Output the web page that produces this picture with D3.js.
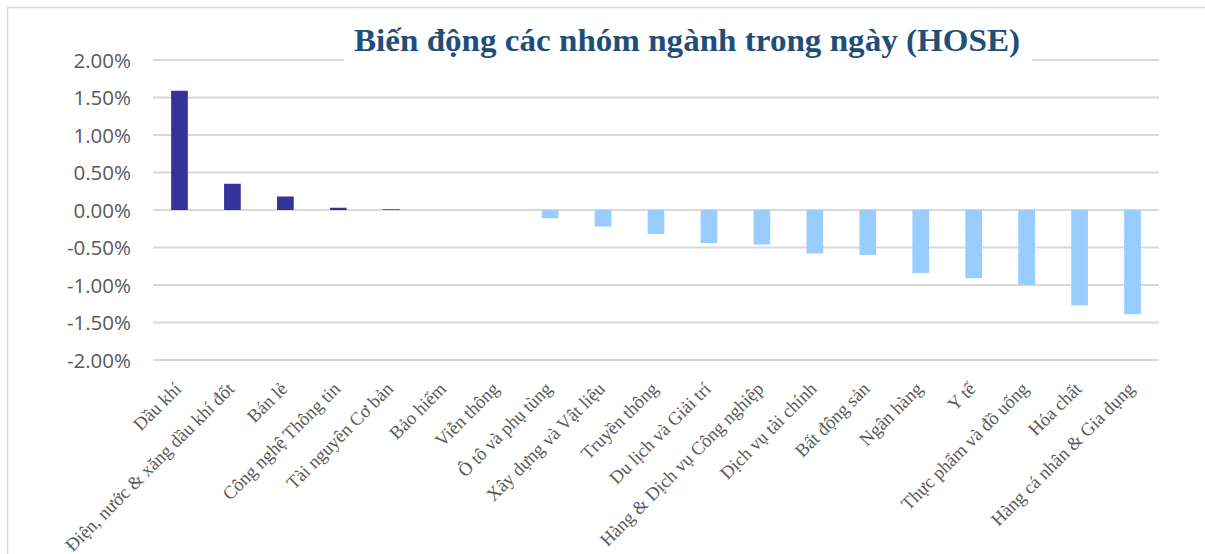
<!DOCTYPE html>
<html>
<head>
<meta charset="utf-8">
<script src="https://cdn.jsdelivr.net/npm/d3@7"></script>
<style>
html,body{margin:0;padding:0;background:#fff;}
svg{display:block;}
</style>
</head>
<body>
<svg id="chart" width="1205" height="554"></svg>
<script>
// ---- data ----
const categories = [
  "Dầu khí",
  "Điện, nước & xăng dầu khí đốt",
  "Bán lẻ",
  "Công nghệ Thông tin",
  "Tài nguyên Cơ bản",
  "Bảo hiểm",
  "Viễn thông",
  "Ô tô và phụ tùng",
  "Xây dựng và Vật liệu",
  "Truyền thông",
  "Du lịch và Giải trí",
  "Hàng & Dịch vụ Công nghiệp",
  "Dịch vụ tài chính",
  "Bất động sản",
  "Ngân hàng",
  "Y tế",
  "Thực phẩm và đồ uống",
  "Hóa chất",
  "Hàng cá nhân & Gia dụng"
];
const values = [1.59, 0.35, 0.18, 0.03, 0.01, 0, 0, -0.11, -0.22, -0.32, -0.44, -0.46, -0.58, -0.60, -0.84, -0.91, -1.00, -1.27, -1.39];
const yTicks = [2, 1.5, 1, 0.5, 0, -0.5, -1, -1.5, -2];
const titleText = "Biến động các nhóm ngành trong ngày (HOSE)";

// ---- layout ----
const svg = d3.select("#chart");
const plot = {left: 153, right: 1159, top: 60, bottom: 360};

svg.append("rect")
  .attr("x", 7.5).attr("y", 7.5)
  .attr("width", 1210).attr("height", 600)
  .attr("fill", "#fff").attr("stroke", "#d9d9d9").attr("stroke-width", 1.5);

const x = d3.scaleBand().domain(categories).range([plot.left, plot.right])
  .paddingInner(0.685).paddingOuter(0.3425);
const y = d3.scaleLinear().domain([-2, 2]).range([plot.bottom, plot.top]);

// gridlines
svg.append("g").selectAll("line").data(yTicks).join("line")
  .attr("x1", plot.left).attr("x2", plot.right)
  .attr("y1", d => y(d)).attr("y2", d => y(d))
  .attr("stroke", "#d9d9d9").attr("stroke-width", 1.8);

// y axis labels
const fmt = d3.formatLocale({decimal: ".", thousands: ",", grouping: [3], currency: ["", ""], minus: "-"}).format(".2f");
const yAxis = d3.axisLeft(y).tickValues(yTicks)
  .tickFormat(d => fmt(d) + "%").tickSize(0).tickPadding(0);
const ya = svg.append("g").attr("transform", `translate(131,0)`).call(yAxis);
ya.select(".domain").remove();
ya.selectAll("text")
  .attr("fill", "#595959")
  .style("font-family", "'Open Sans', sans-serif")
  .style("font-size", "20.5px")
  .attr("dy", "0.35em");

// bars
svg.append("g").selectAll("rect").data(values).join("rect")
  .attr("x", (d, i) => x(categories[i]))
  .attr("width", x.bandwidth())
  .attr("y", d => y(Math.max(0, d)))
  .attr("height", d => Math.abs(y(d) - y(0)))
  .attr("fill", d => d >= 0 ? "#333399" : "#99ccff");

// x labels
const xAxis = d3.axisBottom(x).tickSize(0).tickPadding(0);
const xa = svg.append("g").call(xAxis);
xa.select(".domain").remove();
xa.selectAll(".tick").attr("transform", d => `translate(${x(d) + x.bandwidth()/2 + 3},390)`);
xa.selectAll("text")
  .attr("y", 0).attr("x", 0).attr("dy", 0)
  .attr("transform", "rotate(-45)")
  .attr("text-anchor", "end")
  .attr("fill", "#595959")
  .style("font-family", "'Liberation Serif', 'Times New Roman', serif")
  .style("font-size", "18.5px");

// title with white backing box
svg.append("rect")
  .attr("x", 344).attr("y", 20).attr("width", 688).attr("height", 46)
  .attr("fill", "#fff");
svg.append("text")
  .attr("x", 687).attr("y", 51)
  .attr("text-anchor", "middle")
  .attr("fill", "#1f4e79")
  .style("font-family", "'Liberation Serif', 'Times New Roman', serif")
  .style("font-weight", "bold")
  .style("font-size", "32px")
  .attr("textLength", 666)
  .attr("lengthAdjust", "spacingAndGlyphs")
  .text(titleText);
</script>
</body>
</html>
